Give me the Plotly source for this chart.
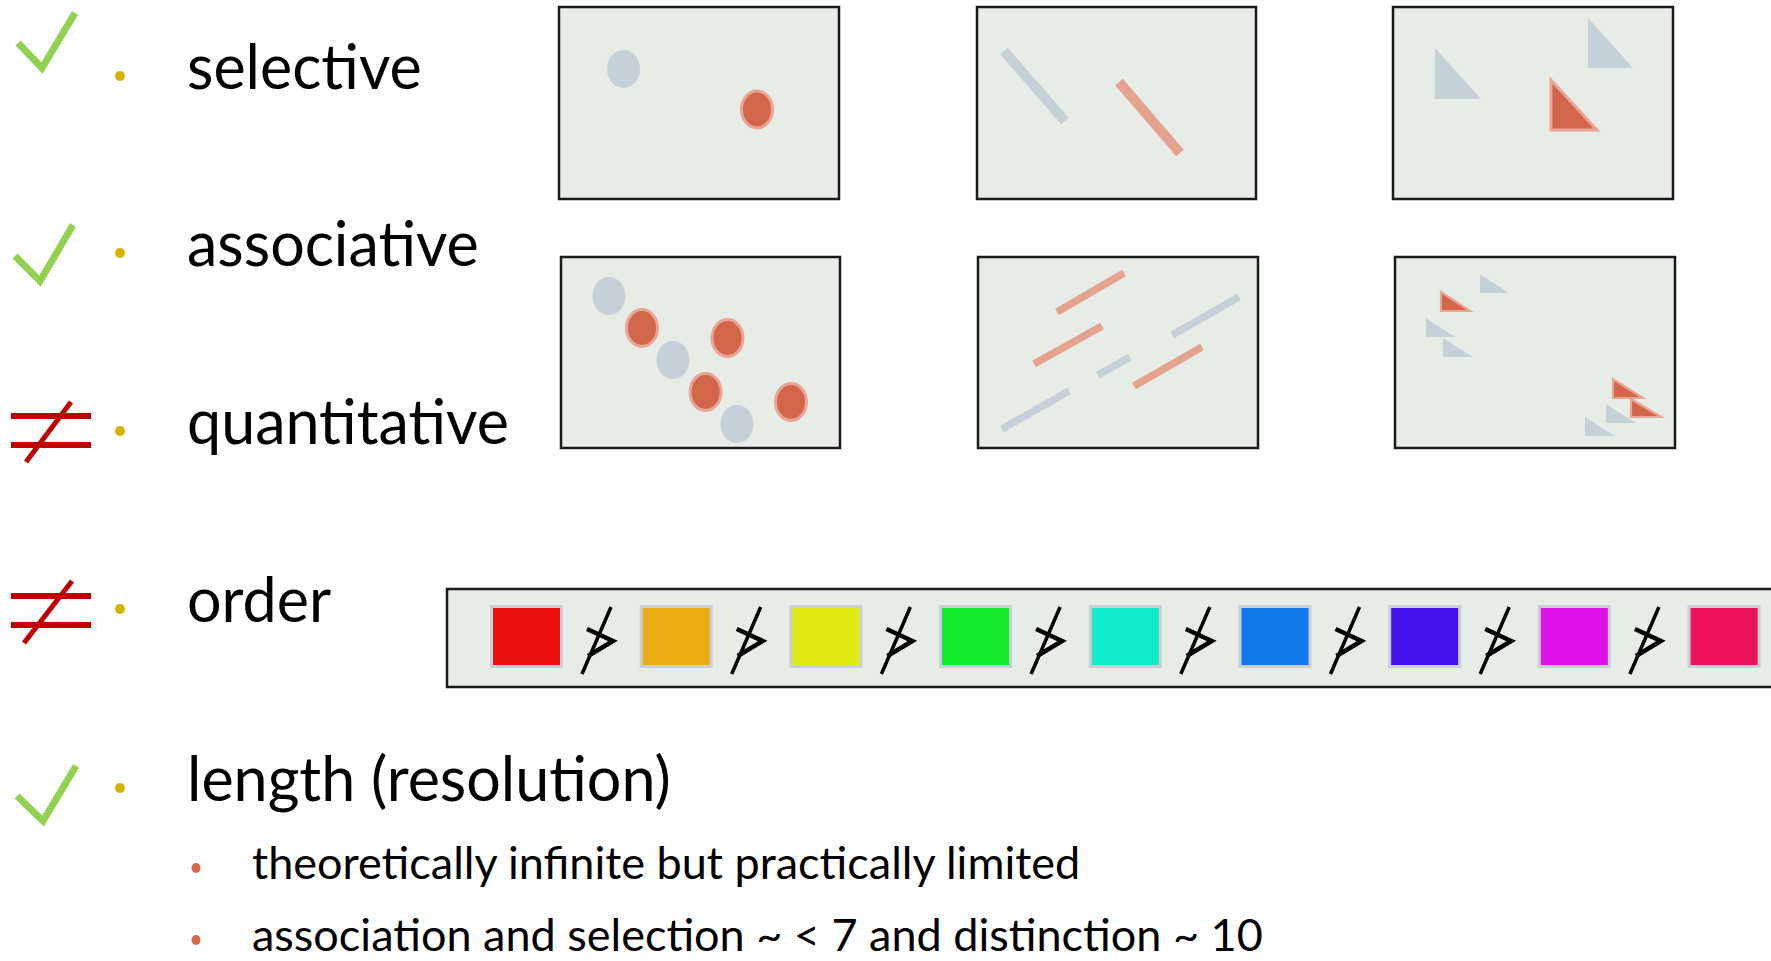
import plotly.graph_objects as go

# ---------------- data ----------------
labels = ["selective", "associative", "quantitative", "order", "length (resolution)"]
verdicts = ["yes", "yes", "no", "no", "yes"]
label_baselines = [90, 267, 445, 623, 802]

sub_items = ["theoretically infinite but practically limited",
             "association and selection ~ < 7 and distinction ~ 10"]
sub_baselines = [880, 952]

order_colors = ["#EC1111", "#EAAE12", "#E1EA12", "#12EA2B", "#12EACB",
                "#1279EA", "#4512EA", "#E012EA", "#EC125C"]

# panel A (selective, points): centre x, centre y, highlighted?
pa_x = [623.5, 757]
pa_y = [69, 109.5]
pa_hi = [0, 1]
# panel D (associative, points)
pd_x = [609, 642, 673, 727.5, 705.6, 737, 791]
pd_y = [296, 328, 360, 338, 392, 424, 402]
pd_hi = [0, 1, 0, 1, 1, 0, 1]
# panel B (selective, lines): x0, y0, x1, y1
pb_x0 = [1004, 1119]
pb_y0 = [51, 82]
pb_x1 = [1065, 1180]
pb_y1 = [121, 153]
pb_hi = [0, 1]
# panel E (associative, lines)
pe_x0 = [1057, 1034, 1134, 1002, 1098, 1172]
pe_y0 = [312, 364, 386, 429, 375, 335]
pe_x1 = [1124, 1102, 1202, 1069, 1130, 1239]
pe_y1 = [273, 326, 347, 391, 357, 297]
pe_hi = [1, 1, 1, 0, 0, 0]
# panel C (selective, triangles): left x, top y, right x, bottom y
pc_x0 = [1435, 1588, 1551]
pc_y0 = [48, 18, 80]
pc_x1 = [1481, 1633, 1597]
pc_y1 = [99, 68, 130]
pc_hi = [0, 0, 1]
# panel F (associative, triangles)
pf_x0 = [1480, 1441, 1426, 1443, 1613, 1631, 1606, 1585]
pf_y0 = [274, 292, 318, 338, 379, 399, 404, 417]
pf_x1 = [1509, 1470, 1455, 1473, 1643, 1661, 1636, 1615]
pf_y1 = [293, 311, 337, 357, 398, 417, 423, 436]
pf_hi = [0, 1, 0, 0, 1, 1, 0, 0]

# ---------------- style ----------------
PANEL_FILL = "#E8ECE6"
PANEL_LINE = "#1A1A1A"
GRAY = "#C5D0D7"
RED = "#D2654A"
RED_EDGE = "#E9A596"
SALMON = "#E4A290"
GREEN = "#92D050"
NEQ_RED = "#C00000"
BULLET = "#D4B400"
SUB_BULLET = "#D9684D"
FONT = "Lato"

shapes = []


def rect(x0, y0, x1, y1, fill, line, lw):
    shapes.append(dict(type="rect", xref="x", yref="y", x0=x0, y0=y0, x1=x1, y1=y1,
                       fillcolor=fill, line=dict(color=line, width=lw), layer="below"))


def ellipse(cx, cy, rx, ry, fill, line=None, lw=0):
    shapes.append(dict(type="circle", xref="x", yref="y", x0=cx - rx, x1=cx + rx,
                       y0=cy - ry, y1=cy + ry, fillcolor=fill,
                       line=dict(color=line or fill, width=lw)))


def path(d, color, lw, fill=None):
    s = dict(type="path", xref="x", yref="y", path=d, line=dict(color=color, width=lw))
    if fill:
        s["fillcolor"] = fill
    shapes.append(s)


# panels
panels = [(559, 7, 839, 199), (977, 7, 1256, 199), (1393, 7, 1673, 199),
          (561, 257, 840, 448), (978, 257, 1258, 448), (1395, 257, 1675, 448)]
for (x0, y0, x1, y1) in panels:
    rect(x0, y0, x1, y1, PANEL_FILL, PANEL_LINE, 2.5)

# points
for xs, ys, hs in [(pa_x, pa_y, pa_hi), (pd_x, pd_y, pd_hi)]:
    for x, y, h in zip(xs, ys, hs):
        if h:
            ellipse(x, y, 15.5, 18.5, RED, RED_EDGE, 3)
        else:
            ellipse(x, y, 16.5, 19, GRAY)

# lines
for x0s, y0s, x1s, y1s, hs, lw in [(pb_x0, pb_y0, pb_x1, pb_y1, pb_hi, 10),
                                   (pe_x0, pe_y0, pe_x1, pe_y1, pe_hi, 7.5)]:
    for a, b, c, d, h in zip(x0s, y0s, x1s, y1s, hs):
        path(f"M{a},{b} L{c},{d}", SALMON if h else GRAY, lw)

# triangles
for x0s, y0s, x1s, y1s, hs, ew in [(pc_x0, pc_y0, pc_x1, pc_y1, pc_hi, 3),
                                   (pf_x0, pf_y0, pf_x1, pf_y1, pf_hi, 2.2)]:
    for a, b, c, d, h in zip(x0s, y0s, x1s, y1s, hs):
        dpath = f"M{a},{b} L{a},{d} L{c},{d} Z"
        if h:
            path(dpath, RED_EDGE, ew, RED)
        else:
            path(dpath, GRAY, 0, GRAY)

# order bar
rect(447, 589, 1800, 687, PANEL_FILL, PANEL_LINE, 2.5)
SQ_X0, SQ_PITCH, SQ_W = 490, 149.7, 73
for i, col in enumerate(order_colors):
    x0 = SQ_X0 + i * SQ_PITCH
    shapes.append(dict(type="rect", xref="x", yref="y", x0=x0 + 1.5, x1=x0 + SQ_W - 1.5,
                       y0=606.5, y1=666.5, fillcolor=col,
                       line=dict(color="#C8D0D5", width=3)))
    if i < len(order_colors) - 1:
        path(f"M{x0+92},{674} L{x0+121},{607}", "black", 3.5)
        path(f"M{x0+97},{629} L{x0+123},{641} L{x0+98},{656}", "black", 4.5)

# verdict symbols
check_pts = {0: [(18, 43), (42, 68), (75, 13)],
             1: [(15, 256), (40, 281), (73, 225)],
             4: [(17, 796), (43, 821), (76, 766)]}
neq_pos = {2: (416, 445, (26, 462), (71, 402)),
           3: (596, 625, (24, 643), (72, 581))}
for i, v in enumerate(verdicts):
    if v == "yes":
        p = check_pts[i]
        path(f"M{p[0][0]},{p[0][1]} L{p[1][0]},{p[1][1]} L{p[2][0]},{p[2][1]}", GREEN, 7)
    else:
        ya, yb, s0, s1 = neq_pos[i]
        for yy in (ya, yb):
            path(f"M11,{yy} L91,{yy}", NEQ_RED, 6)
        path(f"M{s0[0]},{s0[1]} L{s1[0]},{s1[1]}", NEQ_RED, 5)

# bullets
for b in label_baselines:
    ellipse(120, b - 14, 5, 5, BULLET)
for b in sub_baselines:
    ellipse(196, b - 12, 4.5, 5, SUB_BULLET)

annotations = []
MAIN_SIZE = 61
SUB_SIZE = 45
for lab, b in zip(labels, label_baselines):
    annotations.append(dict(x=185, y=b - 0.4 * MAIN_SIZE, xref="x", yref="y", text=lab,
                            showarrow=False, xanchor="left", yanchor="middle",
                            font=dict(family=FONT, size=MAIN_SIZE, color="black")))
for lab, b in zip(sub_items, sub_baselines):
    annotations.append(dict(x=250, y=b - 0.4 * SUB_SIZE, xref="x", yref="y", text=lab,
                            showarrow=False, xanchor="left", yanchor="middle",
                            font=dict(family=FONT, size=SUB_SIZE, color="black")))

fig = go.Figure()
fig.add_trace(go.Scatter(x=[0, 1771], y=[0, 961], mode="markers",
                         marker=dict(opacity=0), hoverinfo="skip", showlegend=False))
fig.update_layout(
    width=1771, height=961, margin=dict(l=0, r=0, t=0, b=0),
    paper_bgcolor="white", plot_bgcolor="white",
    xaxis=dict(range=[0, 1771], visible=False, fixedrange=True),
    yaxis=dict(range=[961, 0], visible=False, fixedrange=True),
    shapes=shapes, annotations=annotations, showlegend=False,
)
fig.write_html("out.html",
               config={"displayModeBar": False},
               post_script="document.body.style.margin='0';document.body.style.overflow='hidden';")
